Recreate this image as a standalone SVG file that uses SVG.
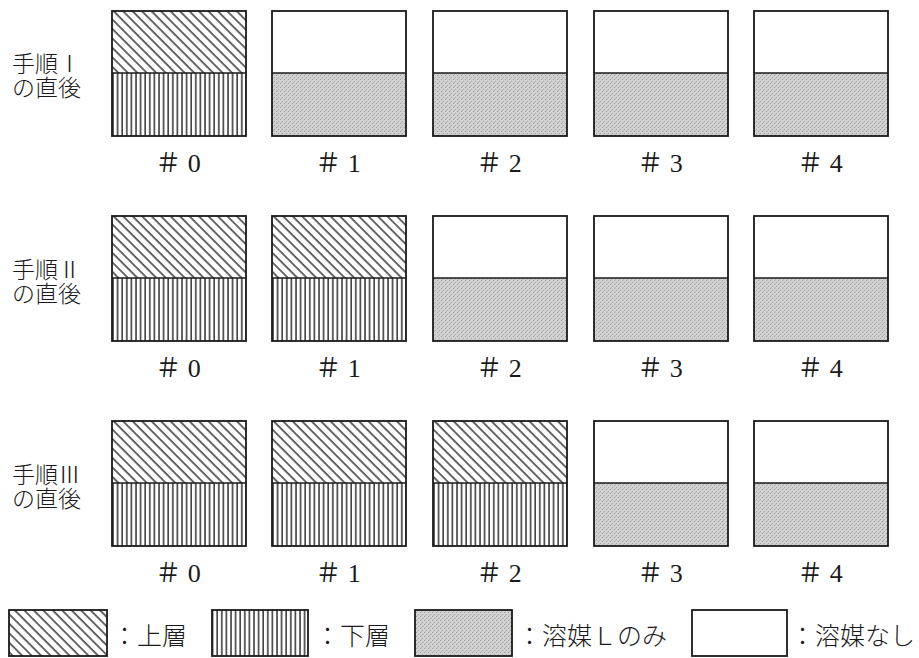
<svg xmlns="http://www.w3.org/2000/svg" width="919" height="658" viewBox="0 0 919 658">
<style>
.box{stroke:#1a1a1a;stroke-width:1.8;}
.div{stroke:#1a1a1a;stroke-width:1.6;fill:none;}
.lbl{font-family:"Noto Sans CJK JP",sans-serif;font-size:23px;font-weight:300;fill:#1a1a1a;}
.num{font-family:"Liberation Serif","Noto Sans CJK JP",serif;font-size:26px;fill:#1a1a1a;text-anchor:middle;}
.leg{font-family:"Noto Sans CJK JP",sans-serif;font-size:25px;font-weight:300;fill:#1a1a1a;}
</style>
<defs>
<pattern id="diag" width="6.7" height="10" patternUnits="userSpaceOnUse" patternTransform="rotate(-45)">
<rect width="6.7" height="10" fill="#fff"/>
<line x1="1" y1="0" x2="1" y2="10" stroke="#1a1a1a" stroke-width="1.3"/>
</pattern>
<pattern id="vert" width="4.6" height="10" patternUnits="userSpaceOnUse">
<rect width="4.6" height="10" fill="#fff"/>
<line x1="1" y1="0" x2="1" y2="10" stroke="#111" stroke-width="1.3"/>
</pattern>
<pattern id="grey" width="4" height="4" patternUnits="userSpaceOnUse">
<rect width="4" height="4" fill="#d0d0d0"/>
<rect x="0" y="0" width="1" height="1" fill="#a0a0a0"/>
<rect x="2" y="2" width="1" height="1" fill="#aaaaaa"/>
<rect x="1" y="3" width="1" height="1" fill="#b8b8b8"/>
</pattern>
<g id="tubeH">
<rect x="0" y="0" width="134" height="62" fill="url(#diag)"/>
<rect x="0" y="62" width="134" height="63" fill="url(#vert)"/>
<line class="div" x1="0" y1="62" x2="134" y2="62"/>
<rect class="box" x="0" y="0" width="134" height="125" fill="none"/>
</g>
<g id="tubeG">
<rect x="0" y="0" width="134" height="62" fill="#fff"/>
<rect x="0" y="62" width="134" height="63" fill="url(#grey)"/>
<line class="div" x1="0" y1="62" x2="134" y2="62"/>
<rect class="box" x="0" y="0" width="134" height="125" fill="none"/>
</g>
</defs>
<rect width="919" height="658" fill="#fff"/>

<g id="row1-label"><text class="lbl"><tspan x="12" y="72">手順Ⅰ</tspan><tspan x="12" y="96">の直後</tspan></text></g>
<g id="r1-t0"><use href="#tubeH" x="112" y="11"/><text class="num" x="178" y="172">＃ 0</text></g>
<g id="r1-t1"><use href="#tubeG" x="272" y="11"/><text class="num" x="338" y="172">＃ 1</text></g>
<g id="r1-t2"><use href="#tubeG" x="433" y="11"/><text class="num" x="499" y="172">＃ 2</text></g>
<g id="r1-t3"><use href="#tubeG" x="594" y="11"/><text class="num" x="660" y="172">＃ 3</text></g>
<g id="r1-t4"><use href="#tubeG" x="754" y="11"/><text class="num" x="820" y="172">＃ 4</text></g>

<g id="row2-label"><text class="lbl"><tspan x="12" y="278">手順Ⅱ</tspan><tspan x="12" y="302">の直後</tspan></text></g>
<g id="r2-t0"><use href="#tubeH" x="112" y="216"/><text class="num" x="178" y="377">＃ 0</text></g>
<g id="r2-t1"><use href="#tubeH" x="272" y="216"/><text class="num" x="338" y="377">＃ 1</text></g>
<g id="r2-t2"><use href="#tubeG" x="433" y="216"/><text class="num" x="499" y="377">＃ 2</text></g>
<g id="r2-t3"><use href="#tubeG" x="594" y="216"/><text class="num" x="660" y="377">＃ 3</text></g>
<g id="r2-t4"><use href="#tubeG" x="754" y="216"/><text class="num" x="820" y="377">＃ 4</text></g>

<g id="row3-label"><text class="lbl"><tspan x="12" y="483">手順Ⅲ</tspan><tspan x="12" y="507">の直後</tspan></text></g>
<g id="r3-t0"><use href="#tubeH" x="112" y="421"/><text class="num" x="178" y="582">＃ 0</text></g>
<g id="r3-t1"><use href="#tubeH" x="272" y="421"/><text class="num" x="338" y="582">＃ 1</text></g>
<g id="r3-t2"><use href="#tubeH" x="433" y="421"/><text class="num" x="499" y="582">＃ 2</text></g>
<g id="r3-t3"><use href="#tubeG" x="594" y="421"/><text class="num" x="660" y="582">＃ 3</text></g>
<g id="r3-t4"><use href="#tubeG" x="754" y="421"/><text class="num" x="820" y="582">＃ 4</text></g>

<g id="legend">
<rect class="box" x="9" y="610" width="98" height="46" fill="url(#diag)"/>
<text class="leg" x="112" y="645">：上層</text>
<rect class="box" x="212" y="610" width="96" height="46" fill="url(#vert)"/>
<text class="leg" x="315" y="645">：下層</text>
<rect class="box" x="415" y="610" width="97" height="46" fill="url(#grey)"/>
<text class="leg" x="517" y="645">：溶媒Ｌのみ</text>
<rect class="box" x="692" y="610" width="95" height="46" fill="#fff"/>
<text class="leg" x="790" y="645">：溶媒なし</text>
</g>
<g id="connectors"/>
</svg>
